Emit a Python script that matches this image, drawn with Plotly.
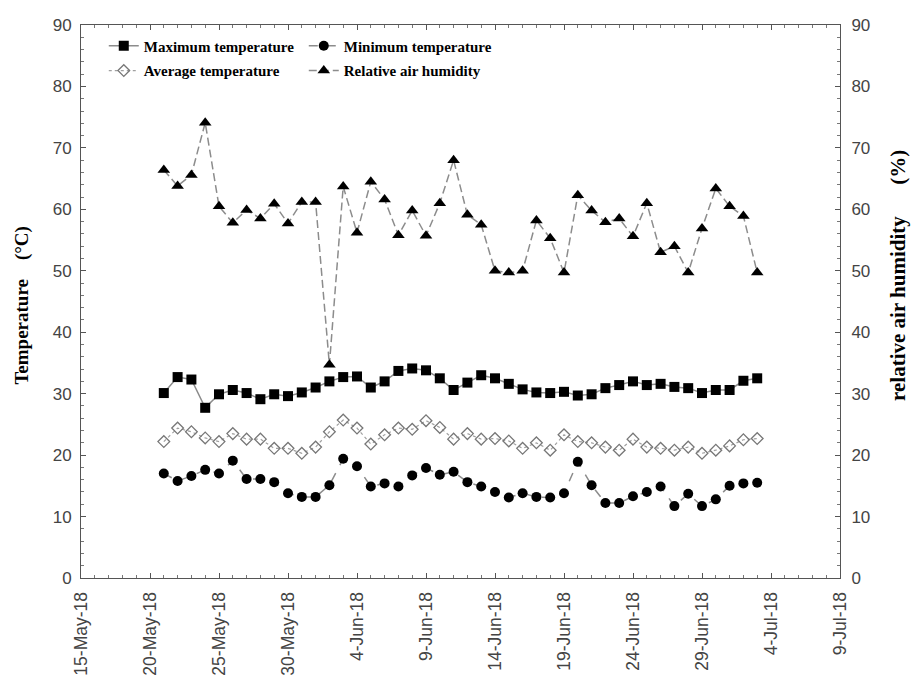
import pandas as pd
import plotly.graph_objects as go

dates = pd.date_range("2018-05-21", "2018-07-03", freq="D")

max_temp = [30.1, 32.7, 32.3, 27.7, 29.9, 30.6, 30.1, 29.1, 29.9, 29.6, 30.2, 31.0,
            32.0, 32.7, 32.8, 31.0, 32.0, 33.7, 34.1, 33.8, 32.5, 30.6, 31.8,
            33.0, 32.5, 31.6, 30.7, 30.2, 30.1, 30.3, 29.7, 29.9, 30.9, 31.4,
            32.0, 31.4, 31.6, 31.1, 30.9, 30.1, 30.6, 30.6, 32.1, 32.5]
min_temp = [17.0, 15.8, 16.6, 17.6, 17.0, 19.1, 16.1, 16.1, 15.6, 13.8, 13.2, 13.2,
            15.1, 19.4, 18.2, 14.9, 15.4, 14.9, 16.7, 17.9, 16.8, 17.3, 15.6,
            14.9, 14.0, 13.1, 13.8, 13.2, 13.1, 13.8, 18.9, 15.1, 12.2, 12.2,
            13.3, 14.0, 14.9, 11.7, 13.7, 11.7, 12.8, 15.0, 15.4, 15.5]
avg_temp = [22.2, 24.4, 23.8, 22.8, 22.2, 23.5, 22.6, 22.6, 21.1, 21.1, 20.3, 21.3,
            23.8, 25.7, 24.4, 21.8, 23.3, 24.4, 24.2, 25.6, 24.5, 22.6, 23.5,
            22.6, 22.7, 22.3, 21.1, 22.0, 20.8, 23.3, 22.2, 22.0, 21.3, 20.8,
            22.6, 21.3, 21.1, 20.8, 21.3, 20.3, 20.8, 21.5, 22.5, 22.7]
humidity = [66.4, 63.8, 65.6, 74.1, 60.5, 57.8, 59.9, 58.5, 60.9, 57.7, 61.2, 61.2,
            34.7, 63.7, 56.2, 64.5, 61.6, 55.8, 59.8, 55.7, 61.0, 68.0, 59.1,
            57.5, 50.0, 49.7, 50.0, 58.2, 55.3, 49.7, 62.3, 59.8, 57.9, 58.5,
            55.6, 61.0, 53.0, 54.0, 49.7, 56.9, 63.4, 60.5, 58.9, 49.7]

y_ticks = [0, 10, 20, 30, 40, 50, 60, 70, 80, 90]

LINE = "#8c8c8c"
fig = go.Figure()
fig.add_trace(go.Scatter(x=dates, y=max_temp, name="<b>Maximum temperature</b>", mode="lines+markers",
                         line=dict(color=LINE, width=1.5),
                         marker=dict(symbol="square", size=10, color="black"), legend="legend"))
fig.add_trace(go.Scatter(x=dates, y=min_temp, name="<b>Minimum temperature</b>", mode="lines+markers",
                         line=dict(color=LINE, width=1.5, dash="dash"),
                         marker=dict(symbol="circle", size=10, color="black"), legend="legend"))
fig.add_trace(go.Scatter(x=dates, y=avg_temp, name="<b>Average temperature</b>", mode="lines+markers",
                         line=dict(color="#a0a0a0", width=1.2, dash="dot"),
                         marker=dict(symbol="diamond-open", size=9, color="#777777",
                                     line=dict(width=1.3)), legend="legend2"))
fig.add_trace(go.Scatter(x=dates, y=humidity, name="<b>Relative air humidity</b>", mode="lines+markers",
                         line=dict(color=LINE, width=1.5, dash="8px,4px"),
                         marker=dict(symbol="triangle-up", size=11, color="black"),
                         yaxis="y2", legend="legend2"))

tick_font = dict(family="Liberation Sans, Arial, sans-serif", size=17, color="#444444")
leg_font = dict(family="Liberation Serif, Times New Roman, serif", size=15, color="black")
serif = "Liberation Serif, Times New Roman, serif"

fig.update_layout(
    width=913, height=675,
    margin=dict(l=81, r=73, t=25, b=97, autoexpand=False),
    paper_bgcolor="white", plot_bgcolor="white",
    showlegend=True,
    xaxis=dict(
        range=["2018-05-15", "2018-07-09"],
        tick0="2018-05-15", dtick=5 * 86400000,
        tickformat="%-d-%b-%y", tickangle=-90,
        tickfont=dict(family="Liberation Sans, Arial, sans-serif", size=17.5, color="#444444"),
        ticklabelstandoff=6, automargin=False,
        showline=True, linecolor="#555555", linewidth=1, mirror="ticks",
        ticks="inside", ticklen=5, tickcolor="#555555",
        minor=dict(dtick=86400000, ticks="inside", ticklen=3, tickcolor="#777777"),
        showgrid=False, zeroline=False,
    ),
    yaxis=dict(
        range=[0, 90], tickvals=y_ticks,
        tickfont=tick_font, ticklabelstandoff=5, automargin=False,
        showline=True, linecolor="#555555", linewidth=1, mirror=False,
        ticks="inside", ticklen=5, tickcolor="#555555",
        minor=dict(dtick=2, ticks="inside", ticklen=3, tickcolor="#777777"),
        showgrid=False, zeroline=False,
    ),
    yaxis2=dict(
        range=[0, 90], tickvals=y_ticks, overlaying="y", side="right",
        tickfont=tick_font, ticklabelstandoff=7, automargin=False,
        showline=True, linecolor="#555555", linewidth=1,
        ticks="inside", ticklen=5, tickcolor="#555555",
        minor=dict(dtick=2, ticks="inside", ticklen=3, tickcolor="#777777"),
        showgrid=False, zeroline=False,
    ),
    legend=dict(
        orientation="h", x=0.03, y=0.992, xanchor="left", yanchor="top",
        font=leg_font, bgcolor="rgba(0,0,0,0)", entrywidth=155, entrywidthmode="pixels",
        itemwidth=30, tracegroupgap=0,
    ),
    legend2=dict(
        orientation="h", x=0.03, y=0.947, xanchor="left", yanchor="top",
        font=leg_font, bgcolor="rgba(0,0,0,0)", entrywidth=155, entrywidthmode="pixels",
        itemwidth=30, tracegroupgap=0,
    ),
    annotations=[
        dict(text="<b>Temperature\u00a0\u00a0\u00a0\u00a0(°C)</b>", xref="paper", yref="paper",
             x=-0.078, y=0.494, xanchor="center", yanchor="middle", textangle=-90,
             showarrow=False, font=dict(family=serif, size=19, color="black")),
        dict(text="<b>relative air humidity\u00a0\u00a0\u00a0\u00a0\u00a0\u00a0(%)</b>", xref="paper", yref="paper",
             x=1.0764, y=0.548, xanchor="center", yanchor="middle", textangle=-90,
             showarrow=False, font=dict(family=serif, size=21, color="black")),
    ],
)

fig.write_html("out.html")
